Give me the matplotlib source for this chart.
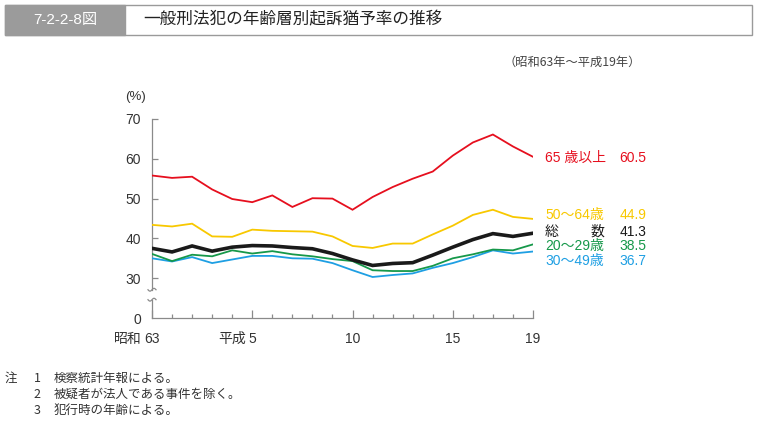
import matplotlib
matplotlib.use('Agg')
import matplotlib.pyplot as plt
import numpy as np
from matplotlib.patches import Rectangle

# ---- data ----
year_labels = ['63', '元', '2', '3', '4', '5', '6', '7', '8', '9',
               '10', '11', '12', '13', '14', '15', '16', '17', '18', '19']
shown_labels = ['63', '5', '10', '15', '19']
era_labels = {'63': '昭和', '5': '平成'}

age65 = [55.8, 55.2, 55.5, 52.3, 49.9, 49.1, 50.8, 47.9, 50.1, 50.0,
         47.2, 50.4, 52.9, 55.0, 56.8, 60.8, 64.1, 66.1, 63.1, 60.5]
age50 = [43.4, 43.0, 43.7, 40.5, 40.4, 42.2, 41.9, 41.8, 41.7, 40.5,
         38.1, 37.6, 38.7, 38.7, 41.0, 43.2, 45.9, 47.2, 45.4, 44.9]
total = [37.5, 36.6, 38.1, 36.8, 37.8, 38.2, 38.1, 37.7, 37.4, 36.2,
         34.6, 33.2, 33.7, 33.9, 35.8, 37.8, 39.7, 41.2, 40.5, 41.3]
age20 = [36.1, 34.3, 35.9, 35.5, 37.0, 36.2, 36.8, 36.0, 35.5, 34.8,
         34.3, 32.0, 31.8, 31.8, 33.1, 35.0, 36.0, 37.2, 37.0, 38.5]
age30 = [35.0, 34.2, 35.3, 33.8, 34.7, 35.6, 35.6, 35.0, 34.9, 33.8,
         32.0, 30.3, 30.8, 31.2, 32.6, 33.8, 35.3, 37.0, 36.2, 36.7]

series_names = ['65 歳以上', '50～64歳', '総数', '20～29歳', '30～49歳']
series_values = [age65, age50, total, age20, age30]
final_labels = ['60.5', '44.9', '41.3', '38.5', '36.7']
ytick_values = [30, 40, 50, 60, 70]

note_nums = ['1', '2', '3']
note_texts = ['検察統計年報による。', '被疑者が法人である事件を除く。', '犯行時の年齢による。']

# ---- style ----
colors = ['#e60f1e', '#f8c800', '#1a1a1a', '#16984a', '#1e9fe3']
widths = [1.3, 1.3, 2.6, 1.3, 1.3]
label_py = [158, 215, 232, 246, 261]

W, H = 758, 422
fig = plt.figure(figsize=(W / 100, H / 100), dpi=100)
FAM = ['Liberation Sans', 'Noto Sans CJK JP']
JP = ['Noto Sans CJK JP']


def fx(x):
    return x / W


def fy(y):
    return 1 - y / H


# title bar
fig.patches.append(Rectangle((fx(5), fy(35)), fx(747), 30 / H, transform=fig.transFigure,
                             facecolor='white', edgecolor='#9a9a9a', lw=1.0))
fig.patches.append(Rectangle((fx(5), fy(35)), fx(120), 30 / H, transform=fig.transFigure,
                             facecolor='#9b9b9b', edgecolor='#9b9b9b', lw=1.0))
fig.text(fx(65), fy(20), '7-2-2-8図', color='white', fontsize=11, ha='center', va='center',
         family=['Liberation Sans Narrow', 'Liberation Sans', 'Noto Sans CJK JP'])
fig.text(fx(143), fy(20), '一般刑法犯の年齢層別起訴猶予率の推移', color='#222222', fontsize=12,
         ha='left', va='center', family=JP)
fig.text(fx(641), fy(62), '（昭和63年～平成19年）', color='#444444', fontsize=8.8,
         ha='right', va='center', family=JP)

ax = fig.add_axes([fx(152), fy(318), fx(533) - fx(152), fy(119) - fy(318)])
x = np.arange(len(year_labels))
order = [0, 1, 4, 3, 2]
for i in order:
    ax.plot(x, series_values[i], color=colors[i], lw=widths[i], solid_joinstyle='miter',
            zorder=3 + (i == 2))

ax.set_xlim(0, len(year_labels) - 1)
ax.set_ylim(20, 70)
for s in ['top', 'right', 'left']:
    ax.spines[s].set_visible(False)
ax.spines['bottom'].set_color('#8a8a8a')
ax.spines['bottom'].set_linewidth(0.9)

# y axis with break
ax.plot([0, 0], [20, 24.6], color='#8a8a8a', lw=0.9, clip_on=False, zorder=2)
ax.plot([0, 0], [27.1, 70], color='#8a8a8a', lw=0.9, clip_on=False, zorder=2)
t = np.linspace(-1, 1, 30)
for yb in [24.6, 27.1]:
    ax.plot(t * 0.2, yb + 0.35 * np.sin(t * np.pi), color='#8a8a8a', lw=0.9,
            clip_on=False, zorder=2)

ax.set_yticks([20] + ytick_values)
ax.set_yticklabels(['0'] + [str(v) for v in ytick_values], family=FAM, fontsize=10, color='#333333')
ax.tick_params(axis='y', direction='in', length=4, width=0.9, color='#8a8a8a', pad=8)
ax.yaxis.get_major_ticks()[0].tick1line.set_visible(False)

major_pos = [year_labels.index(lbl) for lbl in shown_labels]
ax.set_xticks(major_pos)
ax.set_xticklabels(shown_labels, family=FAM, fontsize=10, color='#333333')
ax.set_xticks([i for i in x if i not in major_pos], minor=True)
ax.tick_params(axis='x', which='major', direction='in', length=6, width=0.9, color='#8a8a8a', pad=10)
ax.tick_params(axis='x', which='minor', direction='in', length=3, width=0.9, color='#8a8a8a')

# era prefixes to the left of numerals
for lbl, era in era_labels.items():
    pos = year_labels.index(lbl)
    half = 2.8 * len(lbl) + 2
    ax.annotate(era, xy=(pos, 0), xycoords=ax.get_xaxis_transform(),
                xytext=(-half, -10), textcoords='offset points',
                ha='right', va='top', fontsize=10, family=JP, color='#333333')

fig.text(fx(135), fy(97), '(%)', family=FAM, fontsize=9.5, color='#333333', ha='center', va='center')

# right labels
for i, name in enumerate(series_names):
    yy = fy(label_py[i])
    if name == '総数':
        fig.text(fx(545), yy, '総', color=colors[i], fontsize=10, family=JP, ha='left', va='center')
        fig.text(fx(604), yy, '数', color=colors[i], fontsize=10, family=JP, ha='right', va='center')
    else:
        fig.text(fx(545), yy, name, color=colors[i], fontsize=10, family=FAM, ha='left', va='center')
    fig.text(fx(646), yy, final_labels[i], color=colors[i], fontsize=10, family=FAM,
             ha='right', va='center')

# notes
fig.text(fx(5), fy(378), '注', fontsize=9, family=JP, color='#333333', ha='left', va='center')
for k, (num, txt) in enumerate(zip(note_nums, note_texts)):
    yy = fy(378 + 16 * k)
    fig.text(fx(37), yy, num, fontsize=9, family=JP, color='#333333', ha='center', va='center')
    fig.text(fx(54), yy, txt, fontsize=9, family=JP, color='#333333', ha='left', va='center')

fig.savefig('out.png', dpi=100, facecolor='white')
